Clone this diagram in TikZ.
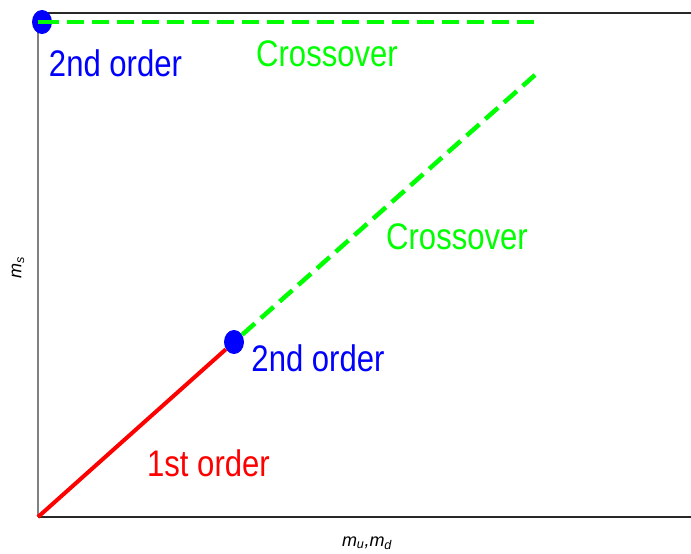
\documentclass[tikz,border=0pt]{standalone}
\usepackage{fontspec}
\setmainfont{Liberation Sans}
\newfontfamily\lblfont[FakeStretch=0.84]{Liberation Sans}
\usepackage{tikz}
\usetikzlibrary{positioning, calc, shapes.geometric}
\usepackage{xcolor}
\definecolor{phgreen}{RGB}{0,255,0}
\definecolor{phblue}{RGB}{0,0,255}
\definecolor{phred}{RGB}{255,0,0}
\definecolor{phframe}{RGB}{40,40,40}

\tikzset{
  region/.style={font=\lblfont\fontsize{37}{40}\selectfont, inner sep=0pt},
  crossline/.style={phgreen, line width=4.5pt, dash pattern=on 17pt off 8pt},
  firstline/.style={phred, line width=4pt},
  endpoint/.style={ellipse, fill=phblue, minimum width=20pt, minimum height=24pt, inner sep=0pt},
  axislabel/.style={font=\itshape\fontsize{18}{20}\selectfont, inner sep=0pt}
}

\begin{document}
\begin{tikzpicture}[x=1pt, y=-1pt]
  \useasboundingbox (0,0) rectangle (691,554);

  % Frame
  \draw[phframe, line width=1.2pt] (38,13) -- (691,13);
  \draw[phframe, line width=1.2pt] (38,517) -- (691,517);
  \draw[gray, line width=1.2pt] (38,13) -- (38,517);

  % Points
  \coordinate (origin) at (38,517);
  \coordinate (topend) at (535,22);
  \coordinate (diagend) at (535,75);
  \node[endpoint] (tcp) at (42,22) {};
  \node[endpoint] (tcp2) at (234,342) {};

  % Transition lines
  \draw[firstline] (origin) -- (tcp2);
  \draw[crossline] (tcp2) -- (diagend);
  \draw[crossline] (tcp.center) -- (topend);
  \node[endpoint, minimum width=16pt, minimum height=23pt] at (tcp) {};
  \fill[phgreen] (38,19.75) rectangle (50,24.25);

  % Labels
  \node[region, phblue] (lbla) at (115.5,63) {2nd order};
  \node[region, phgreen] (lblb) at (327,54) {Crossover};
  \node[region, phgreen] (lblc) at (457,237) {Crossover};
  \node[region, phblue] (lbld) at (318,358) {2nd order};
  \node[region, phred] (lble) at (208.5,463) {1st order};

  % Axes
  \node[axislabel] (xlbl) at (367,543) {m\textsubscript{u},m\textsubscript{d}};
  \node[axislabel, rotate=90] (ylbl) at (18,268) {m\textsubscript{s}};
\end{tikzpicture}
\end{document}
